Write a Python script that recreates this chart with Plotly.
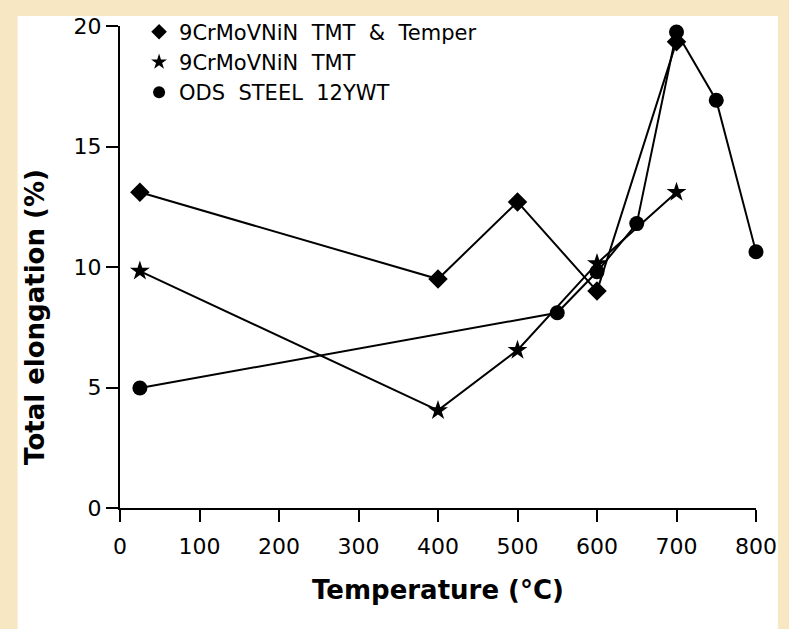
import plotly.graph_objects as go

# Data
temper_T = [25, 400, 500, 600, 700]
temper_E = [13.1, 9.5, 12.7, 9.0, 19.35]

tmt_T = [25, 400, 500, 600, 700]
tmt_E = [9.83, 4.05, 6.55, 10.15, 13.1]

ods_T = [25, 550, 600, 650, 700, 750, 800]
ods_E = [4.98, 8.1, 9.8, 11.8, 19.75, 16.92, 10.63]

names = ["9CrMoVNiN\u00a0 TMT\u00a0 &\u00a0 Temper", "9CrMoVNiN\u00a0 TMT", "ODS\u00a0 STEEL\u00a0 12YWT"]
symbols = ["diamond", "star", "circle"]
x_ticks = [0, 100, 200, 300, 400, 500, 600, 700, 800]
y_ticks = [0, 5, 10, 15, 20]

FONT = "DejaVu Sans"
fig = go.Figure()
series = [(temper_T, temper_E), (tmt_T, tmt_E), (ods_T, ods_E)]
sizes = [15, 15, 15]
for (xs, ys), sym, sz in zip(series, symbols, sizes):
    fig.add_trace(go.Scatter(
        x=xs, y=ys, mode="lines+markers", showlegend=False,
        line=dict(color="black", width=2),
        marker=dict(symbol=sym, size=sz, color="black"),
        cliponaxis=False,
    ))
for sym, nm in zip(symbols, names):
    fig.add_trace(go.Scatter(
        x=[None], y=[None], mode="markers", name=nm,
        marker=dict(symbol=sym, size=12, color="black"),
    ))

fig.add_shape(type="rect", xref="paper", yref="paper",
              x0=(17-120)/640, x1=(782-120)/640, y0=-0.3, y1=(508-10)/488,
              fillcolor="white", line=dict(width=0), layer="below")

fig.add_annotation(text="<b>Total elongation (%)</b>", textangle=-90,
                   xref="paper", yref="paper", x=(35-120)/640, y=(508-315)/488,
                   xanchor="center", yanchor="middle", showarrow=False,
                   font=dict(size=26, family=FONT, color="black"))

fig.update_layout(
    width=789, height=629,
    margin=dict(l=120, r=29, t=20, b=121),
    paper_bgcolor="#F7E7C3",
    plot_bgcolor="white",
    font=dict(family=FONT, color="black"),
    legend=dict(x=0.03, y=1.03, xanchor="left", yanchor="top",
                bgcolor="rgba(0,0,0,0)", font=dict(size=21, family=FONT),
                tracegroupgap=0, itemwidth=30),
    xaxis=dict(range=[0, 800], tickvals=x_ticks, showgrid=False, zeroline=False,
               showline=True, linecolor="black", linewidth=2,
               ticks="outside", ticklen=12, tickwidth=2, tickcolor="black",
               tickfont=dict(size=22, family=FONT), ticklabelstandoff=6,
               title=dict(text="<b>Temperature (°C)</b>", font=dict(size=26, family=FONT), standoff=22)),
    yaxis=dict(range=[0, 20], tickvals=y_ticks, showgrid=False, zeroline=False,
               showline=True, linecolor="black", linewidth=2,
               ticks="outside", ticklen=12, tickwidth=2, tickcolor="black",
               tickfont=dict(size=22, family=FONT)),
)

fig.write_html("out.html", config={"displayModeBar": False},
               post_script="document.body.style.margin='0';document.body.style.background='#F7E7C3';")
